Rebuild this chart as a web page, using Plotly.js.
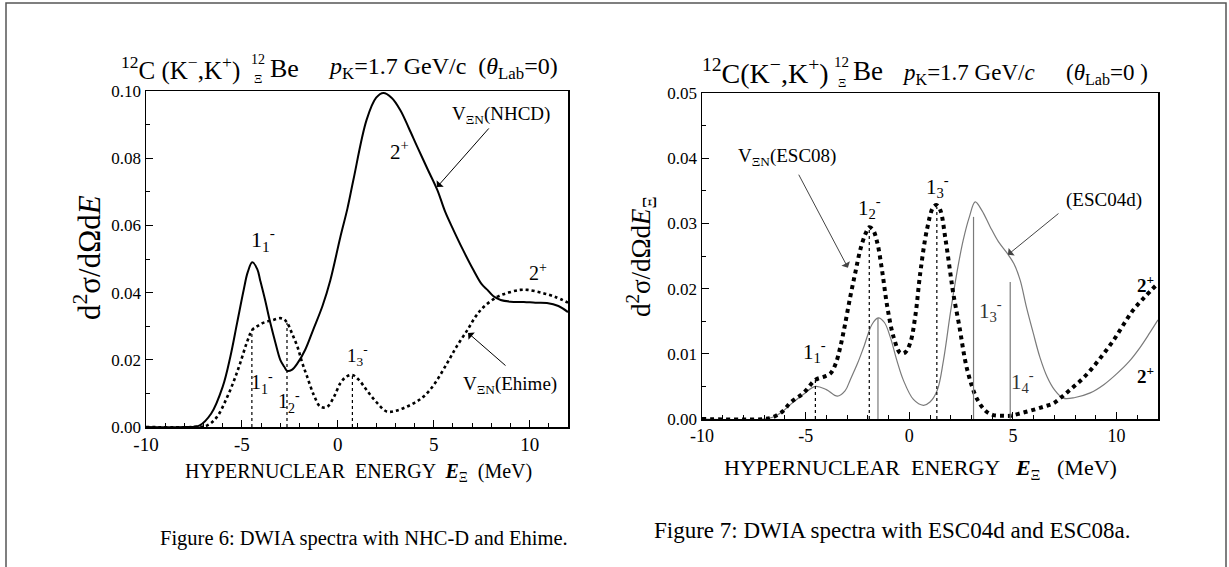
<!DOCTYPE html>
<html>
<head>
<meta charset="utf-8">
<script src="https://cdn.plot.ly/plotly-3.0.1.min.js"></script>
<style>html,body{margin:0;padding:0;background:#fff;}#chart{width:1229px;height:567px;}</style>
</head>
<body>
<div id="chart"></div>
<script>
// ---------- Data: Figure 6 (NHC-D and Ehime) ----------
const nhcdE = [-10,-8,-7.2,-6.6,-6.0,-5.6,-5.25,-4.9,-4.7,-4.46,-4.2,-4.05,-3.8,-3.52,-3.25,-3.0,-2.8,-2.64,-2.4,-2.1,-1.7,-1.28,-0.8,-0.39,0.13,0.5,0.81,1.5,2.0,2.38,2.8,3.26,3.7,4.15,4.7,5.19,5.6,6.03,6.5,7.07,7.5,7.8,8.1,8.49,9.0,9.7,10.3,10.9,11.5,12];
const nhcdY = [0,0,0.0005,0.004,0.012,0.021,0.031,0.041,0.046,0.049,0.047,0.0437,0.038,0.031,0.025,0.020,0.018,0.0167,0.017,0.019,0.023,0.029,0.036,0.0437,0.0565,0.065,0.0735,0.0914,0.098,0.0994,0.098,0.0943,0.089,0.0833,0.0765,0.0705,0.064,0.0586,0.053,0.0467,0.0425,0.0408,0.039,0.0378,0.0373,0.0372,0.037,0.0369,0.036,0.0342];

const ehimeE = [-10,-7.5,-6.8,-6.3,-5.77,-5.4,-5.09,-4.75,-4.46,-4.2,-3.89,-3.4,-3.0,-2.8,-2.64,-2.4,-2.1,-1.85,-1.6,-1.25,-0.9,-0.56,-0.2,0.13,0.45,0.76,1.1,1.5,2.0,2.55,3.0,3.5,4.0,4.46,5.0,5.7,6.2,6.76,7.2,7.6,8.3,8.9,9.5,9.9,10.6,11.3,12];
const ehimeY = [0,0,0.0005,0.003,0.0089,0.014,0.019,0.025,0.0289,0.030,0.031,0.0318,0.0324,0.032,0.031,0.028,0.0238,0.019,0.015,0.0095,0.006,0.006,0.009,0.013,0.015,0.0155,0.014,0.011,0.0075,0.0046,0.0048,0.0058,0.0072,0.009,0.0125,0.019,0.024,0.0289,0.033,0.0357,0.0387,0.040,0.0408,0.0408,0.040,0.0388,0.037];

const ehimeLevelE = [-4.48,-2.65,0.76];
const ehimeLevelTop = [0.0289,0.031,0.0155];

// ---------- Data: Figure 7 (ESC04d and ESC08a) ----------
const esc08E = [-10,-7,-6.56,-6.1,-5.74,-5.1,-4.53,-4.1,-3.8,-3.55,-3.33,-3.1,-2.85,-2.6,-2.36,-2.1,-1.93,-1.75,-1.54,-1.3,-1.06,-0.75,-0.43,-0.2,0.05,0.3,0.53,0.85,1.16,1.33,1.5,1.75,1.98,2.12,2.4,2.8,3.28,3.7,4.05,4.5,4.87,5.4,5.98,6.5,6.95,7.4,7.91,8.4,8.88,9.35,9.84,10.3,10.8,11.3,12];
const esc08Y = [0,0,0.0003,0.0012,0.0025,0.004,0.006,0.0065,0.007,0.0085,0.011,0.0145,0.0187,0.0225,0.026,0.0285,0.0294,0.029,0.027,0.0225,0.0172,0.0125,0.0101,0.0102,0.0117,0.016,0.0224,0.029,0.0325,0.0328,0.032,0.0275,0.0224,0.0193,0.0145,0.0075,0.003,0.0012,0.0006,0.0005,0.0005,0.0009,0.0014,0.0019,0.0024,0.0035,0.0049,0.0063,0.008,0.0099,0.012,0.0143,0.0167,0.0185,0.0208];

const esc04E = [-10,-7,-6.56,-6.1,-5.74,-5.1,-4.53,-4.0,-3.47,-3.1,-2.85,-2.5,-2.2,-1.8,-1.5,-1.2,-0.92,-0.6,-0.29,0.2,0.68,1.0,1.35,1.65,1.98,2.3,2.6,2.9,3.18,3.5,3.9,4.3,4.73,5.05,5.35,5.65,5.98,6.3,6.66,7.0,7.43,8.0,8.73,9.4,10.03,10.6,11.14,11.6,12];
const esc04Y = [0,0,0.0003,0.0012,0.0022,0.0038,0.005,0.0045,0.0035,0.0043,0.006,0.0085,0.011,0.0145,0.0155,0.0148,0.0126,0.009,0.006,0.003,0.0021,0.0026,0.0044,0.009,0.0162,0.0225,0.0274,0.031,0.0333,0.032,0.0295,0.0272,0.0254,0.0238,0.0213,0.0172,0.0132,0.0095,0.0064,0.0045,0.0032,0.0033,0.004,0.0053,0.007,0.0088,0.011,0.0132,0.0152];

const esc08LevelE = [-4.53,-1.93,1.33];
const esc08LevelTop = [0.006,0.0294,0.0325];
const esc04LevelE = [-1.51,3.1,4.87];
const esc04LevelTop = [0.0155,0.031,0.021];

const xTicks = [-10,-5,0,5,10];
const xTickText = ['-10','-5','0','5','10'];

// ---------- Build ----------
const W = 1229, H = 567;
const SERIF = 'Liberation Serif, DejaVu Serif, serif';
const px = v => v / W;
const py = v => 1 - v / H;

function levelLines(E, top, xa, ya, style) {
  return E.map((e, i) => ({
    x: [e, e], y: [0, top[i]], xaxis: xa, yaxis: ya, mode: 'lines',
    hoverinfo: 'skip', showlegend: false, line: style
  }));
}

const traces = [
  {x: nhcdE, y: nhcdY, xaxis: 'x', yaxis: 'y', mode: 'lines', line: {color: '#000', width: 2, shape: 'spline'}, showlegend: false},
  {x: ehimeE, y: ehimeY, xaxis: 'x', yaxis: 'y', mode: 'lines', line: {color: '#000', width: 2.6, dash: 'dot', shape: 'spline'}, showlegend: false},
  ...levelLines(ehimeLevelE, ehimeLevelTop, 'x', 'y', {color: '#000', width: 1.2, dash: 'dot'}),
  {x: esc04E, y: esc04Y, xaxis: 'x2', yaxis: 'y2', mode: 'lines', line: {color: '#7a7a7a', width: 1.2, shape: 'spline'}, showlegend: false},
  {x: esc08E, y: esc08Y, xaxis: 'x2', yaxis: 'y2', mode: 'lines', line: {color: '#000', width: 4, dash: 'dot', shape: 'spline'}, showlegend: false},
  ...levelLines(esc08LevelE, esc08LevelTop, 'x2', 'y2', {color: '#000', width: 1.2, dash: 'dot'}),
  ...levelLines(esc04LevelE, esc04LevelTop, 'x2', 'y2', {color: '#7a7a7a', width: 1.2})
];

function xAxis(domain, anchor, fs) {
  return {
    domain: domain, anchor: anchor, range: [-10, 12], tickvals: xTicks, ticktext: xTickText,
    showline: true, mirror: true, linecolor: '#000', linewidth: 1.5,
    ticks: 'inside', ticklen: 7, tickcolor: '#000', tickwidth: 1,
    minor: {dtick: 1, ticks: 'inside', ticklen: 4, tickcolor: '#000', showgrid: false},
    showgrid: false, zeroline: false, fixedrange: true,
    tickfont: {family: SERIF, size: fs, color: '#000'}
  };
}
function yAxis(domain, anchor, rng, dt, fs) {
  return {
    domain: domain, anchor: anchor, range: rng, dtick: dt, tick0: 0, tickformat: '.2f',
    showline: true, mirror: true, linecolor: '#000', linewidth: 1.5,
    ticks: 'inside', ticklen: 7, tickcolor: '#000', tickwidth: 1,
    minor: {dtick: dt / 2, ticks: 'inside', ticklen: 4, tickcolor: '#000', showgrid: false},
    showgrid: false, zeroline: false, fixedrange: true,
    tickfont: {family: SERIF, size: fs, color: '#000'}
  };
}

function txt(text, x, y, size, opts) {
  return Object.assign({
    text: text, x: px(x), y: py(y), xref: 'paper', yref: 'paper',
    showarrow: false, xanchor: 'center', yanchor: 'middle',
    font: {family: SERIF, size: size, color: '#000'}
  }, opts || {});
}
function dtxt(text, x, y, xa, ya, size, color) {
  return {
    text: text, x: x, y: y, xref: xa, yref: ya, showarrow: false,
    xanchor: 'center', yanchor: 'middle',
    font: {family: SERIF, size: size, color: color || '#000'}
  };
}
function arrow(xh, yh, xt, yt, xa, ya, color) {
  return {
    text: '', x: xh, y: yh, ax: xt, ay: yt, xref: xa, yref: ya, axref: xa, ayref: ya,
    showarrow: true, arrowhead: 1, arrowsize: 1.6, arrowwidth: 1, arrowcolor: color
  };
}

const lvl = n => '1<sub>' + n + '</sub><sup>-</sup>';

const annotations = [
  // Figure 6 title
  txt('<sup>12</sup>C (K<sup>−</sup>,K<sup>+</sup>)', 119, 68, 25, {xanchor: 'left'}),
  txt('12', 258, 59, 14, {}),
  txt('Ξ', 258, 78, 13, {}),
  txt('Be', 268, 68, 26, {xanchor: 'left'}),
  txt('<i>p</i><sub>K</sub>=1.7 GeV/c  (<i>θ</i><sub>Lab</sub>=0)', 326, 68, 24, {xanchor: 'left'}),
  // Figure 7 title
  txt('<sup>12</sup>C(K<sup>−</sup>,K<sup>+</sup>)', 700, 71, 28, {xanchor: 'left'}),
  txt('12', 842, 62, 15, {}),
  txt('Ξ', 842, 82, 13, {}),
  txt('Be', 851, 71, 27, {xanchor: 'left'}),
  txt('<i>p</i><sub>K</sub>=1.7 GeV/<i>c</i>', 900, 74, 23, {xanchor: 'left'}),
  txt('(<i>θ</i><sub>Lab</sub>=0 )', 1064, 74, 23, {xanchor: 'left'}),
  // Axis titles
  txt('d<sup>2</sup>σ/dΩd<i>E</i>', 87, 258, 31, {textangle: -90}),
  txt('HYPERNUCLEAR  ENERGY  <b><i>E</i></b><sub>Ξ</sub>  (MeV)', 358, 472, 20, {}),
  txt('d<sup>2</sup>σ/dΩd<i>E</i><sub>Ξ</sub>', 641, 256, 27, {textangle: -90}),
  txt('HYPERNUCLEAR  ENERGY   <b><i>E</i></b><sub>Ξ</sub>   (MeV)', 920, 469, 22, {}),
  // Captions
  txt('Figure 6: DWIA spectra with NHC-D and Ehime.', 364, 538, 20.5, {}),
  txt('Figure 7: DWIA spectra with ESC04d and ESC08a.', 652, 530, 23, {xanchor: 'left'}),
  // Figure 6 labels
  dtxt(lvl(1), -3.9, 0.0557, 'x', 'y', 22),
  dtxt('2<sup>+</sup>', 3.24, 0.0824, 'x', 'y', 21),
  dtxt('V<sub>ΞN</sub>(NHCD)', 8.5, 0.0929, 'x', 'y', 19),
  dtxt('2<sup>+</sup>', 10.44, 0.046, 'x', 'y', 20),
  dtxt(lvl(3), 1.05, 0.0214, 'x', 'y', 19),
  dtxt(lvl(1), -3.95, 0.0131, 'x', 'y', 20),
  dtxt(lvl(2), -2.54, 0.0074, 'x', 'y', 20),
  dtxt('V<sub>ΞN</sub>(Ehime)', 8.95, 0.0125, 'x', 'y', 19),
  arrow(5.17, 0.0714, 7.94, 0.0893, 'x', 'y', '#000'),
  arrow(6.79, 0.028, 8.82, 0.0179, 'x', 'y', '#000'),
  // Figure 7 labels
  dtxt('V<sub>ΞN</sub>(ESC08)', -5.9, 0.0402, 'x2', 'y2', 19),
  dtxt(lvl(2), -1.9, 0.0325, 'x2', 'y2', 21),
  dtxt(lvl(3), 1.34, 0.0357, 'x2', 'y2', 21),
  dtxt(lvl(1), -4.55, 0.0103, 'x2', 'y2', 21),
  dtxt('(ESC04d)', 9.4, 0.0336, 'x2', 'y2', 19),
  dtxt(lvl(3), 3.9, 0.0167, 'x2', 'y2', 21, '#333'),
  dtxt(lvl(4), 5.44, 0.0057, 'x2', 'y2', 21, '#333'),
  dtxt('<b>2<sup>+</sup></b>', 11.4, 0.0207, 'x2', 'y2', 19),
  dtxt('<b>2<sup>+</sup></b>', 11.4, 0.0067, 'x2', 'y2', 19),
  arrow(-2.96, 0.0232, -5.37, 0.0377, 'x2', 'y2', '#444'),
  arrow(4.76, 0.0252, 7.27, 0.0317, 'x2', 'y2', '#444')
];

const shapes = [
  {type: 'path', xref: 'paper', yref: 'paper',
   path: 'M ' + px(6) + ' ' + py(567) + ' L ' + px(6) + ' ' + py(3) + ' L ' + px(1226) + ' ' + py(3) + ' L ' + px(1226) + ' ' + py(567),
   line: {color: '#555', width: 1.5}}
];

const layout = {
  width: W, height: H, margin: {l: 0, r: 0, t: 0, b: 0},
  paper_bgcolor: '#fff', plot_bgcolor: '#fff', showlegend: false,
  xaxis: xAxis([px(146), px(568)], 'y', 19),
  yaxis: yAxis([py(427), py(91)], 'x', [0, 0.1], 0.02, 17),
  xaxis2: xAxis([px(702), px(1158)], 'y2', 18),
  yaxis2: yAxis([py(419), py(93)], 'x2', [0, 0.05], 0.01, 17),
  annotations: annotations, shapes: shapes
};

Plotly.newPlot('chart', traces, layout, {staticPlot: true, displayModeBar: false});
</script>
</body>
</html>
